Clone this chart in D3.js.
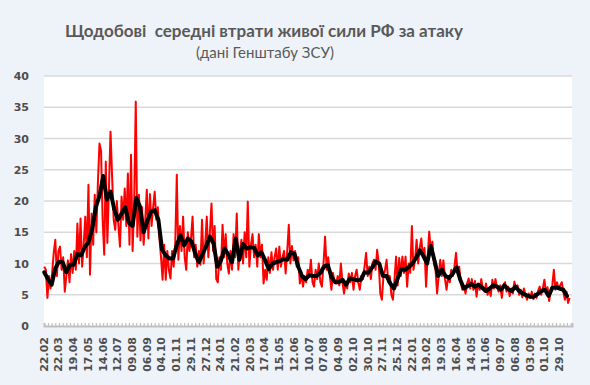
<!DOCTYPE html>
<html>
<head>
<meta charset="utf-8">
<title>Щодобові середні втрати</title>
<script src="https://cdn.jsdelivr.net/npm/d3@7"></script>
<style>
  body { margin: 0; background: #eef3fa; }
  svg { display: block; }
</style>
</head>
<body>
<div id="chart"></div>
<script>
// days on the category axis, 22.02.2023 onwards
var dayCount = 1004;

// daily values, read every 3rd day
var redStep = 3;
var dailyLoss = [
  9.5, 9, 4.5, 8, 6, 8.5, 11.7, 13.8, 8, 12,
  12.7, 9, 11, 5.5, 8, 10.5, 7, 11.5, 8.5, 12,
  9, 16.4, 10, 17.2, 9.5, 13, 17.5, 11, 22.6, 8.2,
  18, 13, 21, 15, 23, 29.2, 28, 17, 11.4, 26.3,
  13.3, 22, 31.1, 23.9, 17, 15.4, 20, 16, 12.7, 20.7,
  17, 22, 16, 24.4, 13, 27.4, 12, 20, 35.9, 14.3,
  21, 13.7, 19, 13, 17, 21.8, 14, 21.1, 16, 19,
  21.5, 17, 19, 14, 11, 7.4, 13, 7.4, 12, 9,
  7.6, 12, 9.5, 13, 24.2, 10.6, 16, 12, 17.5, 11,
  9, 15, 12, 14, 17.5, 11, 13, 9.5, 12, 9.8,
  17, 10, 13, 17.5, 11, 15, 19.6, 12, 16, 7.5,
  7, 11, 9, 16.2, 11, 14.7, 10, 8.4, 12, 9,
  14.7, 11, 18, 9, 12, 13.8, 10, 15, 11, 19.9,
  9.5, 13, 14.7, 11, 13, 9.5, 14.7, 11, 13, 6.8,
  9, 7.4, 11, 8.5, 11.8, 9, 11, 12.4, 9, 12.7,
  9.5, 11, 12, 8.4, 12, 16.2, 10, 12.8, 10.5, 12,
  9.5, 11, 6.8, 8.5, 6.3, 8, 7, 9, 8, 10.6,
  7, 6.3, 9, 7.5, 10, 7, 6.3, 10, 14.3, 9,
  11, 8, 5.8, 8.5, 7, 6.8, 8, 6.5, 10, 7,
  5.2, 7, 6, 8.4, 7, 8.5, 5.8, 8, 9, 7,
  5.8, 8, 7.5, 9.5, 11.7, 8, 9.5, 7.5, 10, 10.6,
  9, 12.2, 10, 5.2, 4.2, 8, 9, 10.6, 7, 8,
  5, 4.2, 7.5, 11.1, 6.5, 10.9, 8, 11.1, 8.5, 11.1,
  6.3, 10, 8.5, 16, 9, 10.5, 13.8, 10, 12.5, 14,
  11, 12.5, 6.3, 11, 15.1, 12, 13.5, 10, 9, 5.2,
  8, 10.6, 8, 10.5, 7.5, 5.8, 8, 7, 9, 8,
  9.5, 11.7, 8.5, 9.5, 7, 5.8, 6.5, 5.2, 6.8, 7.6,
  6, 7.5, 5.8, 7.2, 4.7, 6.8, 5.8, 7.5, 6, 5.5,
  6.8, 5, 6, 4.8, 7.4, 6, 7.5, 6.2, 5.5, 6.5,
  4.5, 6.5, 7, 5.5, 6.3, 4.8, 6, 5.2, 7.1, 6,
  6.5, 5, 5.8, 4.6, 6, 5, 4.2, 5.2, 4.5, 5.5,
  4.3, 5.2, 4.5, 5.6, 6.3, 5, 6, 7.4, 5.5, 6.2,
  4, 5.5, 6.5, 9, 5.8, 7, 6, 6.5, 7, 5.5,
  4.2, 5.5, 3.7, 4.5
];

// smoothed (black) line, read once a week
var blackStep = 7;
var weeklyAvg = [
  8.6, 7.5, 6.6, 9.2, 10.3, 10.2, 8.6, 9.8, 9.8, 11.5,
  11.3, 12.6, 13.4, 15.5, 19, 20.8, 24, 20.2, 21.5, 18.7,
  17, 18, 19, 16.5, 16, 20.5, 19.1, 15, 16.8, 18.3,
  18.5, 17, 12.2, 11.3, 10.8, 10.8, 13, 14.5, 12.9, 14,
  13.5, 11.6, 10.2, 11.5, 12.8, 14.3, 13.2, 9.5, 10.5, 12.4,
  11.4, 10.2, 14, 10.6, 13.1, 12.4, 12.6, 12.5, 11.3, 11.8,
  10.5, 9.1, 10, 10.2, 10.4, 10.7, 10.6, 11.8, 11.5, 9.5,
  8, 7.5, 8.1, 8, 8, 8.5, 9.5, 9.8, 7.9, 7,
  7, 7.4, 6.6, 7.6, 7.5, 7.3, 7.4, 8.6, 8.5, 9.3,
  10.3, 10, 8, 8, 6.8, 6, 7.6, 9.1, 9, 9.4,
  10, 10.9, 12.1, 11.2, 10, 12.8, 10.5, 8, 9, 8,
  7.7, 8.4, 9.4, 7.4, 6, 6.4, 6.7, 6.3, 6.6, 6.1,
  5.6, 6, 6.5, 6.3, 5.8, 6.5, 5.9, 5.6, 6.3, 5.6,
  5.2, 4.9, 4.7, 4.7, 5.1, 5.6, 5.8, 4.8, 6.1, 6.2,
  6, 5.8, 4.8
];

var yTicks = [0, 5, 10, 15, 20, 25, 30, 35, 40];
var labelStep = 28;
var dateLabels = [
  "22.02", "22.03", "19.04", "17.05", "14.06", "12.07", "09.08", "06.09",
  "04.10", "01.11", "29.11", "27.12", "24.01", "21.02", "20.03", "17.04",
  "15.05", "12.06", "10.07", "07.08", "04.09", "02.10", "30.10", "27.11",
  "25.12", "22.01", "19.02", "19.03", "16.04", "14.05", "11.06", "09.07",
  "06.08", "03.09", "01.10", "29.10"
];

var W = 590, H = 385;
var plot = {left: 44, right: 572, top: 76, bottom: 326};

var svg = d3.select("#chart").append("svg")
    .attr("width", W)
    .attr("height", H);

svg.append("rect")
    .attr("width", W).attr("height", H)
    .attr("fill", "#eef3fa");

svg.append("rect")
    .attr("x", plot.left).attr("y", plot.top)
    .attr("width", plot.right - plot.left)
    .attr("height", plot.bottom - plot.top)
    .attr("fill", "#ffffff");

var x = d3.scaleLinear()
    .domain([-0.5, dayCount - 0.5])
    .range([plot.left, plot.right]);

var y = d3.scaleLinear()
    .domain([0, 40])
    .range([plot.bottom, plot.top]);

// gridlines
svg.append("g")
  .selectAll("line")
  .data(yTicks.slice(1))
  .enter().append("line")
    .attr("x1", plot.left).attr("x2", plot.right)
    .attr("y1", function(d) { return y(d); })
    .attr("y2", function(d) { return y(d); })
    .attr("stroke", "#d9d9d9")
    .attr("stroke-width", 1.3);

// y labels
var yAxis = svg.append("g")
    .attr("transform", "translate(" + plot.left + ",0)")
    .call(d3.axisLeft(y).tickValues(yTicks).tickSize(0).tickPadding(15));
yAxis.select(".domain").remove();
yAxis.selectAll("text")
    .attr("font-family", "DejaVu Sans")
    .attr("font-weight", "bold")
    .attr("font-size", 11)
    .attr("fill", "#4d4d4d");

// lines
var redLine = d3.line()
    .x(function(d, i) { return x(i * redStep); })
    .y(function(d) { return y(d); });

var blackLine = d3.line()
    .x(function(d, i) { return x(i * blackStep); })
    .y(function(d) { return y(d); });

svg.append("path")
    .datum(dailyLoss)
    .attr("d", redLine)
    .attr("fill", "none")
    .attr("stroke", "#ff0000")
    .attr("stroke-width", 2)
    .attr("stroke-linejoin", "round");

svg.append("path")
    .datum(weeklyAvg)
    .attr("d", blackLine)
    .attr("fill", "none")
    .attr("stroke", "#000000")
    .attr("stroke-width", 4)
    .attr("stroke-linejoin", "round")
    .attr("stroke-linecap", "round");

// x axis: weekly tick marks + date labels every 4 weeks
var minorAxis = svg.append("g")
    .attr("transform", "translate(0," + plot.bottom + ")")
    .call(d3.axisBottom(x).tickValues(d3.range(0, dayCount, 7)).tickSize(-3).tickFormat(""));
minorAxis.select(".domain")
    .attr("stroke", "#bfbfbf")
    .attr("stroke-width", 2);
minorAxis.selectAll(".tick line")
    .attr("stroke", "#bfbfbf")
    .attr("stroke-width", 1.2);

var xAxis = svg.append("g")
    .attr("transform", "translate(0," + plot.bottom + ")")
    .call(d3.axisBottom(x)
      .tickValues(dateLabels.map(function(d, i) { return i * labelStep; }))
      .tickSize(0)
      .tickFormat(function(d, i) { return dateLabels[i]; }));
xAxis.select(".domain").remove();
xAxis.selectAll("text")
    .attr("transform", "rotate(-90)")
    .attr("x", -11)
    .attr("y", -1)
    .attr("dy", "0.35em")
    .attr("text-anchor", "end")
    .attr("font-family", "DejaVu Sans")
    .attr("font-weight", "bold")
    .attr("font-size", 11)
    .attr("fill", "#4d4d4d");

// titles
svg.append("text")
    .attr("x", 264).attr("y", 37)
    .attr("text-anchor", "middle")
    .attr("font-family", "Lato")
    .attr("font-weight", "bold")
    .attr("font-size", 17)
    .attr("fill", "#595959")
    .attr("xml:space", "preserve")
    .text("Щодобові  середні втрати живої сили РФ за атаку");

svg.append("text")
    .attr("x", 265).attr("y", 58)
    .attr("text-anchor", "middle")
    .attr("font-family", "Lato")
    .attr("font-size", 15)
    .attr("fill", "#595959")
    .text("(дані Генштабу ЗСУ)");
</script>
</body>
</html>
